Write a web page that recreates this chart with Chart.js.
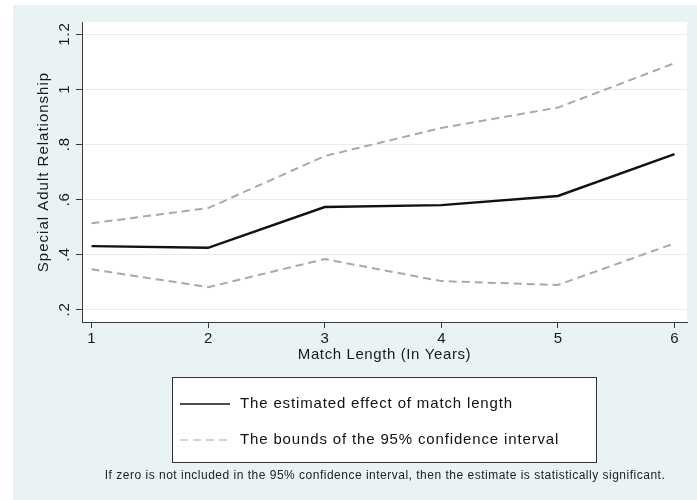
<!DOCTYPE html>
<html>
<head>
<meta charset="utf-8">
<script src="https://cdn.jsdelivr.net/npm/chart.js@4.4.1/dist/chart.umd.min.js"></script>
<style>
  html, body { margin: 0; padding: 0; background: #ffffff; }
  #wrap { width: 697px; height: 500px; position: relative; }
</style>
</head>
<body>
<div id="wrap"><canvas id="chart" width="697" height="500"></canvas></div>
<script>
// data
const matchYears = [1, 2, 3, 4, 5, 6];
const estimate = [0.430, 0.424, 0.572, 0.579, 0.612, 0.764];
const upperBound = [0.513, 0.568, 0.757, 0.859, 0.933, 1.094];
const lowerBound = [0.346, 0.281, 0.383, 0.303, 0.289, 0.440];
const yTicks = [0.2, 0.4, 0.6, 0.8, 1, 1.2];
const yTickLabels = ['.2', '.4', '.6', '.8', '1', '1.2'];

const estimateLabel = 'The estimated effect of match length';
const boundsLabel = 'The bounds of the 95% confidence interval';
const footnote = 'If zero is not included in the 95% confidence interval, then the estimate is statistically significant.';

const FONT = '"Liberation Sans", Arial, Helvetica, sans-serif';
const AXIS = '#3a3a3a';

function pts(vals) {
    return matchYears.map((x, i) => ({ x: x, y: vals[i] }));
}

// Stata-like backdrop, rotated y labels, titles, boxed legend, note
const stataLook = {
    id: 'stataLook',
    beforeDraw(chart) {
        const ctx = chart.ctx;
        const a = chart.chartArea;
        ctx.save();
        ctx.fillStyle = '#eaf3f3';
        ctx.fillRect(13, 5, chart.width - 13, chart.height - 5);
        ctx.fillStyle = '#ffffff';
        ctx.fillRect(a.left, a.top, a.right - a.left, a.bottom - a.top);
        ctx.restore();
    },
    afterDraw(chart) {
        const ctx = chart.ctx;
        const a = chart.chartArea;
        const yScale = chart.scales.y;
        ctx.save();
        ctx.fillStyle = '#1a1a1a';

        // y tick labels, rotated like Stata
        ctx.font = '15px ' + FONT;
        ctx.letterSpacing = '0.8px';
        ctx.textAlign = 'center';
        ctx.textBaseline = 'middle';
        yTicks.forEach((v, i) => {
            const py = yScale.getPixelForValue(v);
            ctx.save();
            ctx.translate(65, py);
            ctx.rotate(-Math.PI / 2);
            ctx.fillText(yTickLabels[i], 0, 0);
            ctx.restore();
        });

        // y title
        ctx.save();
        ctx.translate(44, (a.top + a.bottom) / 2);
        ctx.rotate(-Math.PI / 2);
        ctx.font = '15px ' + FONT;
        ctx.letterSpacing = '1px';
        ctx.fillText('Special Adult Relationship', 0, 0);
        ctx.restore();

        // x title
        const cx = (a.left + a.right) / 2;
        ctx.font = '15px ' + FONT;
        ctx.letterSpacing = '0.6px';
        ctx.fillText('Match Length (In Years)', cx, 355);

        // legend box
        const boxL = 172, boxR = 596, boxT = 377, boxB = 462;
        ctx.fillStyle = '#ffffff';
        ctx.fillRect(boxL, boxT, boxR - boxL, boxB - boxT);
        ctx.strokeStyle = '#333333';
        ctx.lineWidth = 1;
        ctx.strokeRect(boxL + 0.5, boxT + 0.5, boxR - boxL, boxB - boxT);

        const rows = [404, 440];
        chart.data.datasets.slice(0, 2).forEach((ds, i) => {
            const ry = rows[i];
            ctx.save();
            ctx.strokeStyle = ds.borderColor;
            ctx.lineWidth = i === 0 ? 1.6 : 1.2;
            ctx.setLineDash(ds.borderDash || []);
            ctx.beginPath();
            ctx.moveTo(180, ry);
            ctx.lineTo(230, ry);
            ctx.stroke();
            ctx.restore();
            ctx.fillStyle = '#111111';
            ctx.font = '15px ' + FONT;
            ctx.letterSpacing = '0.85px';
            ctx.textAlign = 'left';
            ctx.fillText(ds.label, 240, ry);
        });

        // note
        ctx.fillStyle = '#222222';
        ctx.font = '12px ' + FONT;
        ctx.letterSpacing = '0.5px';
        ctx.textAlign = 'center';
        ctx.fillText(footnote, 385, 476);
        ctx.restore();
    }
};

new Chart(document.getElementById('chart'), {
    type: 'line',
    data: {
        datasets: [
            {
                label: estimateLabel,
                data: pts(estimate),
                borderColor: '#111111',
                borderWidth: 2.4,
                pointRadius: 0,
                tension: 0,
                order: 0
            },
            {
                label: boundsLabel,
                data: pts(upperBound),
                borderColor: '#a9a9a9',
                borderWidth: 2,
                borderDash: [8, 5],
                pointRadius: 0,
                tension: 0,
                order: 1
            },
            {
                label: boundsLabel + ' (lower)',
                data: pts(lowerBound),
                borderColor: '#a9a9a9',
                borderWidth: 2,
                borderDash: [8, 5],
                pointRadius: 0,
                tension: 0,
                order: 1
            }
        ]
    },
    options: {
        responsive: false,
        animation: false,
        layout: { padding: { top: 22, right: 10, bottom: 138, left: 0 } },
        plugins: {
            legend: { display: false },
            tooltip: { enabled: false }
        },
        scales: {
            x: {
                type: 'linear',
                min: 0.9185,
                max: 6.107,
                afterBuildTicks: s => { s.ticks = matchYears.map(v => ({ value: v })); },
                afterFit: s => { s.height = 40; },
                grid: { drawOnChartArea: false, drawTicks: true, tickLength: 6, color: AXIS },
                border: { color: AXIS, width: 1 },
                ticks: {
                    color: '#1a1a1a',
                    padding: 2,
                    maxRotation: 0,
                    font: { family: FONT, size: 15 }
                }
            },
            y: {
                type: 'linear',
                min: 0.1546,
                max: 1.2436,
                afterBuildTicks: s => { s.ticks = yTicks.map(v => ({ value: v })); },
                afterFit: s => { s.width = 82; },
                grid: { color: '#e6eff0', tickColor: AXIS, drawTicks: true, tickLength: 6 },
                border: { color: AXIS, width: 1 },
                ticks: { display: false }
            }
        }
    },
    plugins: [stataLook]
});
</script>
</body>
</html>
